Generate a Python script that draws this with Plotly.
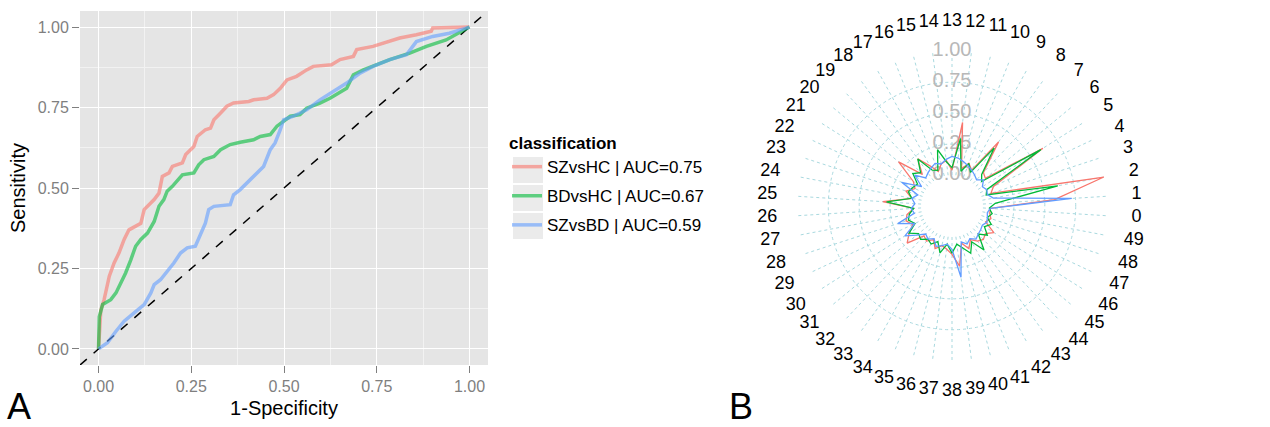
import plotly.graph_objects as go

# ---------------- ROC data (panel A) ----------------
sz_hc_fpr = [0, 0.006, 0.015, 0.029, 0.042, 0.055, 0.069, 0.082, 0.114, 0.123, 0.150, 0.163, 0.172, 0.190,
             0.199, 0.226, 0.235, 0.257, 0.266, 0.288, 0.302, 0.311, 0.329, 0.346, 0.364, 0.405, 0.418, 0.454,
             0.472, 0.490, 0.508, 0.534, 0.561, 0.579, 0.628, 0.651, 0.687, 0.696, 0.740, 0.785, 0.812, 0.857,
             0.897, 0.901, 1.0]
sz_hc_tpr = [0, 0.120, 0.153, 0.226, 0.267, 0.298, 0.340, 0.370, 0.390, 0.433, 0.464, 0.484, 0.536, 0.547,
             0.567, 0.578, 0.604, 0.629, 0.660, 0.681, 0.686, 0.712, 0.733, 0.754, 0.764, 0.769, 0.774, 0.779,
             0.790, 0.810, 0.836, 0.847, 0.867, 0.878, 0.883, 0.899, 0.909, 0.930, 0.940, 0.955, 0.966, 0.976,
             0.987, 0.997, 1.0]

bd_hc_fpr = [0, 0.002, 0.011, 0.033, 0.047, 0.060, 0.073, 0.087, 0.100, 0.114, 0.132, 0.150, 0.163, 0.176,
             0.185, 0.199, 0.212, 0.226, 0.257, 0.270, 0.284, 0.311, 0.329, 0.355, 0.382, 0.418, 0.436, 0.463,
             0.481, 0.499, 0.517, 0.543, 0.561, 0.597, 0.624, 0.669, 0.687, 0.714, 0.749, 0.785, 0.839, 0.884,
             0.937, 1.0]
bd_hc_tpr = [0, 0.100, 0.138, 0.153, 0.174, 0.205, 0.236, 0.277, 0.319, 0.340, 0.360, 0.396, 0.443, 0.464,
             0.490, 0.505, 0.521, 0.541, 0.547, 0.572, 0.588, 0.598, 0.619, 0.635, 0.642, 0.650, 0.660, 0.666,
             0.692, 0.707, 0.723, 0.728, 0.748, 0.764, 0.779, 0.810, 0.852, 0.867, 0.883, 0.899, 0.919, 0.940,
             0.960, 1.0]

sz_bd_fpr = [0, 0.024, 0.047, 0.069, 0.096, 0.123, 0.141, 0.150, 0.167, 0.185, 0.203, 0.221, 0.239, 0.261,
             0.275, 0.288, 0.297, 0.311, 0.355, 0.364, 0.382, 0.400, 0.418, 0.445, 0.463, 0.476, 0.490, 0.499,
             0.525, 0.561, 0.597, 0.633, 0.669, 0.705, 0.740, 0.785, 0.830, 0.857, 0.901, 0.946, 1.0]
sz_bd_tpr = [0, 0.019, 0.055, 0.086, 0.112, 0.138, 0.174, 0.200, 0.215, 0.241, 0.267, 0.298, 0.314, 0.319,
             0.360, 0.391, 0.433, 0.443, 0.448, 0.479, 0.495, 0.516, 0.536, 0.567, 0.619, 0.640, 0.681, 0.712,
             0.723, 0.743, 0.774, 0.800, 0.826, 0.857, 0.878, 0.899, 0.914, 0.955, 0.971, 0.981, 1.0]

roc_names = ["SZvsHC | AUC=0.75", "BDvsHC | AUC=0.67", "SZvsBD | AUC=0.59"]
axis_ticks = [0.0, 0.25, 0.5, 0.75, 1.0]
axis_ticktext = ["0.00", "0.25", "0.50", "0.75", "1.00"]
diag = [-0.05, 1.05]

# ---------------- Radar data (panel B) ----------------
radar_cats = [str(i) for i in range(50)]
radar_sz_hc = [0.06, 0.58, 1.00, 0.08, 0.12, 0.62, 0.10, 0.12, 0.39, 0.08,
               0.12, 0.06, 0.43, 0.04, 0.12, 0.10, 0.05, 0.12, 0.22, 0.10,
               0.31, 0.12, 0.08, 0.14, 0.08, 0.31, 0.06, 0.12, 0.14, 0.10,
               0.16, 0.22, 0.08, 0.10, 0.06, 0.12, 0.08, 0.10, 0.14, 0.24,
               0.06, 0.12, 0.06, 0.10, 0.12, 0.10, 0.15, 0.05, 0.08, 0.06]
radar_bd_hc = [0.05, 0.10, 0.62, 0.04, 0.06, 0.60, 0.06, 0.10, 0.33, 0.06,
               0.12, 0.04, 0.30, 0.06, 0.11, 0.22, 0.06, 0.08, 0.22, 0.12,
               0.16, 0.08, 0.10, 0.12, 0.08, 0.28, 0.06, 0.10, 0.12, 0.08,
               0.16, 0.10, 0.12, 0.08, 0.10, 0.06, 0.14, 0.06, 0.13, 0.06,
               0.10, 0.16, 0.08, 0.19, 0.06, 0.12, 0.06, 0.10, 0.05, 0.08]
radar_sz_bd = [0.06, 0.72, 0.09, 0.05, 0.06, 0.04, 0.08, 0.04, 0.06, 0.08,
               0.10, 0.12, 0.14, 0.15, 0.13, 0.10, 0.12, 0.10, 0.08, 0.06,
               0.14, 0.04, 0.20, 0.04, 0.08, 0.05, 0.08, 0.06, 0.21, 0.08,
               0.20, 0.12, 0.06, 0.08, 0.05, 0.10, 0.08, 0.06, 0.10, 0.33,
               0.05, 0.08, 0.05, 0.08, 0.06, 0.05, 0.04, 0.06, 0.05, 0.04]
radar_ticks = [0.0, 0.25, 0.5, 0.75, 1.0]
radar_ticktext = ["0.00", "0.25", "0.50", "0.75", "1.00"]
radar_label_cat = "13"

FONT = "Liberation Sans, Arial, Helvetica, sans-serif"
roc_colors = ["rgba(248,118,109,0.6)", "rgba(0,186,56,0.6)", "rgba(97,156,255,0.6)"]
radar_colors = ["#F8766D", "#00BA38", "#619CFF"]

W, H = 1270, 427
CX, CY, R = 952, 206, 155          # radar centre / grid radius (px)
R_LAB_POLAR = 206                  # radius of the label-carrying polar frame (px)
LABEL_RADIUS = 185                 # px radius where category labels are centred

fig = go.Figure()

# diagonal reference line
fig.add_trace(go.Scatter(x=diag, y=diag, mode="lines", showlegend=False, hoverinfo="skip",
                         line=dict(color="black", width=1.5, dash="dash")))

for i, (xs, ys, name, col) in enumerate(zip([sz_hc_fpr, bd_hc_fpr, sz_bd_fpr], [sz_hc_tpr, bd_hc_tpr, sz_bd_tpr],
                                            roc_names, roc_colors)):
    fig.add_trace(go.Scatter(x=xs, y=ys, mode="lines", name=name, legendgroup=f"g{i}",
                             line=dict(color=col, width=3.5)))

# radar: radial tick labels as text
fig.add_trace(go.Scatterpolar(r=radar_ticks, theta=[radar_label_cat] * len(radar_ticks), mode="text",
                              text=radar_ticktext, textfont=dict(size=20, color="#B8B8B8", family=FONT),
                              showlegend=False, hoverinfo="skip", subplot="polar"))

for vals, col, name in zip([radar_sz_hc, radar_bd_hc, radar_sz_bd], radar_colors, roc_names):
    fig.add_trace(go.Scatterpolar(r=vals + vals[:1], theta=radar_cats + radar_cats[:1], mode="lines",
                                  line=dict(color=col, width=1.3), showlegend=False, name=name,
                                  subplot="polar"))

# category labels centred on a circle, drawn in a concentric transparent polar frame
fig.add_trace(go.Scatterpolar(r=[LABEL_RADIUS / R_LAB_POLAR] * len(radar_cats), theta=radar_cats, mode="text",
                              text=radar_cats, textfont=dict(size=18, color="black", family=FONT),
                              showlegend=False, hoverinfo="skip", subplot="polar2"))

key_boxes = [(157, 183), (185, 211), (213, 239)]
shapes = [dict(type="rect", xref="paper", yref="paper", x0=513 / W, x1=543 / W, y0=1 - b / H, y1=1 - t / H,
               fillcolor="#EBEBEB", line=dict(width=0), layer="below") for t, b in key_boxes]

angular_common = dict(type="category", categoryarray=radar_cats, direction="counterclockwise", rotation=-3.6)

fig.update_layout(
    width=W, height=H,
    margin=dict(l=0, r=0, t=0, b=0),
    paper_bgcolor="white",
    plot_bgcolor="#E5E5E5",
    font=dict(family=FONT, color="black"),
    xaxis=dict(domain=[80 / W, 488 / W], range=[-0.05, 1.05], tickvals=axis_ticks, ticktext=axis_ticktext,
               showgrid=True, gridcolor="white", gridwidth=1.4, zeroline=False,
               minor=dict(dtick=0.125, tick0=0.125, showgrid=True, gridcolor="#F2F2F2", gridwidth=0.7),
               ticks="outside", ticklen=7, tickwidth=1.4, tickcolor="#7F7F7F",
               tickfont=dict(size=16, color="#7F7F7F"),
               title=dict(text="1-Specificity", font=dict(size=20), standoff=6)),
    yaxis=dict(domain=[1 - 365 / H, 1 - 11 / H], range=[-0.05, 1.05], tickvals=axis_ticks, ticktext=axis_ticktext,
               showgrid=True, gridcolor="white", gridwidth=1.4, zeroline=False,
               minor=dict(dtick=0.125, tick0=0.125, showgrid=True, gridcolor="#F2F2F2", gridwidth=0.7),
               ticks="outside", ticklen=7, tickwidth=1.4, tickcolor="#7F7F7F",
               tickfont=dict(size=16, color="#7F7F7F"),
               title=dict(text="Sensitivity", font=dict(size=20), standoff=6)),
    legend=dict(x=507 / W, y=1 - 127 / H, xanchor="left", yanchor="top", bgcolor="rgba(0,0,0,0)",
                title=dict(text="<b>classification</b>", font=dict(size=17)),
                font=dict(size=17), tracegroupgap=4, itemwidth=30),
    shapes=shapes,
    polar=dict(
        domain=dict(x=[(CX - R) / W, (CX + R) / W], y=[1 - (CY + R) / H, 1 - (CY - R) / H]),
        bgcolor="white",
        hole=0.2,
        radialaxis=dict(range=[0, 1.003], tickvals=radar_ticks, showticklabels=False, ticks="",
                        showline=False, showgrid=True, gridcolor="#A9D9DF", gridwidth=1.2, griddash="dot"),
        angularaxis=dict(**angular_common, showline=False, showgrid=True, gridcolor="#A9D9DF", gridwidth=1.2,
                         griddash="dot", ticks="", showticklabels=False),
    ),
    polar2=dict(
        domain=dict(x=[(CX - R_LAB_POLAR) / W, (CX + R_LAB_POLAR) / W],
                    y=[1 - (CY + R_LAB_POLAR) / H, 1 - (CY - R_LAB_POLAR) / H]),
        bgcolor="rgba(0,0,0,0)",
        radialaxis=dict(range=[0, 1], visible=False, showgrid=False, showline=False, showticklabels=False,
                        ticks=""),
        angularaxis=dict(**angular_common, showline=False, showgrid=False, ticks="", showticklabels=False),
    ),
    annotations=[
        dict(text="A", x=5 / W, y=1 - 406 / H, xref="paper", yref="paper", xanchor="left", yanchor="middle",
             showarrow=False, font=dict(size=36, color="black")),
        dict(text="B", x=727 / W, y=1 - 406 / H, xref="paper", yref="paper", xanchor="left", yanchor="middle",
             showarrow=False, font=dict(size=36, color="black")),
    ],
)

fig.write_html("out.html", config={"displayModeBar": False},
               post_script="document.body.style.margin='0px';document.body.style.padding='0px';")
